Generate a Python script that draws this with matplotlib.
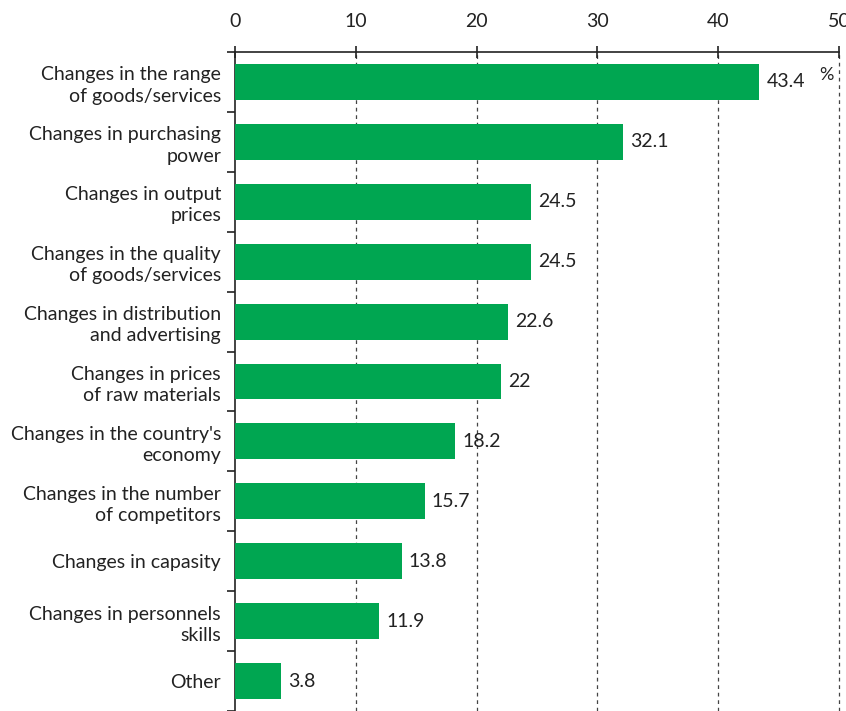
import matplotlib
matplotlib.use('Agg')
import matplotlib.pyplot as plt
from matplotlib.ticker import FixedLocator

plt.rcParams['font.family'] = ['Lato', 'DejaVu Sans']

# ===== 数据 =====
categories = [
    'Changes in the range\nof goods/services',
    'Changes in purchasing\npower',
    'Changes in output\nprices',
    'Changes in the quality\nof goods/services',
    'Changes in distribution\nand advertising',
    'Changes in prices\nof raw materials',
    "Changes in the country's\neconomy",
    'Changes in the number\nof competitors',
    'Changes in capasity',
    'Changes in personnels\nskills',
    'Other',
]
values = [43.4, 32.1, 24.5, 24.5, 22.6, 22, 18.2, 15.7, 13.8, 11.9, 3.8]
value_labels = ['43.4', '32.1', '24.5', '24.5', '22.6', '22', '18.2', '15.7', '13.8', '11.9', '3.8']
x_ticks = [0, 10, 20, 30, 40, 50]

bar_color = '#00A651'
text_color = '#222222'

fig = plt.figure(figsize=(8.46, 7.11), dpi=100)
ax = fig.add_axes([235 / 846, 0.0, (839 - 235) / 846, (711 - 52) / 711])

y = list(range(len(categories)))
ax.barh(y, values, height=0.6, color=bar_color, zorder=3)

# 数值标注
for yi, v, lab in zip(y, values, value_labels):
    ax.text(v + 0.6, yi, lab, va='center', ha='left', fontsize=14, color=text_color)

ax.text(48.4, -0.12, '%', ha='left', va='center', fontsize=13, color=text_color)

ax.set_xlim(0, 50)
ax.set_ylim(len(categories) - 0.5, -0.5)

# ---- 坐标轴 ----
ax.xaxis.tick_top()
ax.xaxis.set_major_locator(FixedLocator(x_ticks))
ax.tick_params(axis='x', which='major', direction='inout', length=8, width=1.2,
               labelsize=14, pad=12, colors=text_color)
ax.set_xticklabels([str(t) for t in x_ticks])

ax.set_yticks(y)
ax.set_yticklabels(categories, fontsize=14, color=text_color, linespacing=1.3)
ax.tick_params(axis='y', which='major', length=0, pad=10)
ax.yaxis.set_minor_locator(FixedLocator([i + 0.5 for i in range(-1, len(categories))]))
ax.tick_params(axis='y', which='minor', direction='out', length=6, width=1.2, color=text_color)

# 虚线网格
for xv in x_ticks[1:]:
    ax.axvline(xv, color='#444444', linestyle=(0, (3, 3)), linewidth=0.9, zorder=1,
               clip_on=False)

for side in ['right', 'bottom']:
    ax.spines[side].set_visible(False)
for side in ['top', 'left']:
    ax.spines[side].set_linewidth(1.2)
    ax.spines[side].set_color(text_color)

fig.savefig('out.png', dpi=100, facecolor='white')
